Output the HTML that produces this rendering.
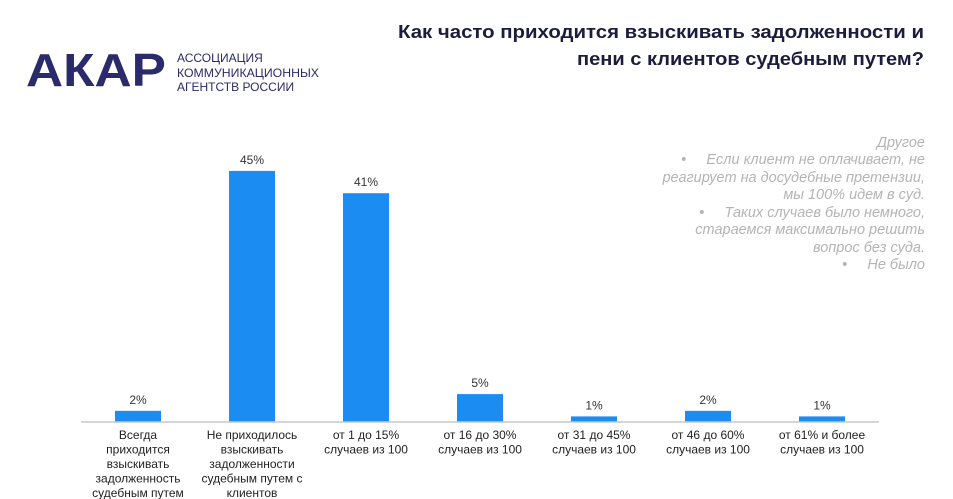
<!DOCTYPE html>
<html><head><meta charset="utf-8"><style>
body{margin:0;width:953px;height:499px;background:#fff;overflow:hidden;font-family:"Liberation Sans","Noto Sans CJK SC",sans-serif;}
svg{display:block}
</style></head><body>
<svg id="chart" width="953" height="499">
<g>
<text x="26" y="86" font-size="46" font-weight="bold" fill="#2b2a6b" textLength="140" lengthAdjust="spacingAndGlyphs">АКАР</text>
<text x="177" y="62" font-size="12" fill="#2b2a6b">АССОЦИАЦИЯ</text>
<text x="177" y="77" font-size="12" fill="#2b2a6b" textLength="142" lengthAdjust="spacingAndGlyphs">КОММУНИКАЦИОННЫХ</text>
<text x="177" y="91" font-size="12" fill="#2b2a6b">АГЕНТСТВ РОССИИ</text>
</g>
<g font-size="18" font-weight="bold" fill="#1c1c3c" text-anchor="end">
<text x="924" y="38" textLength="526" lengthAdjust="spacingAndGlyphs">Как часто приходится взыскивать задолженности и</text>
<text x="924" y="65" textLength="347" lengthAdjust="spacingAndGlyphs">пени с клиентов судебным путем?</text>
</g>
<g font-size="14.5" font-style="italic" fill="#b4b4b4" text-anchor="end">
<text x="925" y="147">Другое</text>
<text x="925" y="164">•&#160;&#160;&#160;&#160;&#160;Если клиент не оплачивает, не</text>
<text x="925" y="182">реагирует на досудебные претензии,</text>
<text x="925" y="199">мы 100% идем в суд.</text>
<text x="925" y="217">•&#160;&#160;&#160;&#160;&#160;Таких случаев было немного,</text>
<text x="925" y="234">стараемся максимально решить</text>
<text x="925" y="252">вопрос без суда.</text>
<text x="925" y="269">•&#160;&#160;&#160;&#160;&#160;Не было</text>
</g>
<g id="bars"></g>
<line x1="81" y1="422" x2="879" y2="422" stroke="#c8c8c8" stroke-width="1.5"/>
<g id="labels"></g>
</svg>
<script>
const categories = [
 ["Всегда","приходится","взыскивать","задолженность","судебным путем"],
 ["Не приходилось","взыскивать","задолженности","судебным путем с","клиентов"],
 ["от 1 до 15%","случаев из 100"],
 ["от 16 до 30%","случаев из 100"],
 ["от 31 до 45%","случаев из 100"],
 ["от 46 до 60%","случаев из 100"],
 ["от 61% и более","случаев из 100"]
];
const values = [2,45,41,5,1,2,1];
const valueLabels = ["2%","45%","41%","5%","1%","2%","1%"];
const NS="http://www.w3.org/2000/svg";
const x0=81, band=114, baseY=422, pxPer=5.58, bw=46;
function xCenter(i){return x0+band*i+band/2;}
function yScale(v){return baseY-v*pxPer;}
const gb=document.getElementById('bars'), gl=document.getElementById('labels');
values.forEach((v,i)=>{
 const r=document.createElementNS(NS,'rect');
 r.setAttribute('x',xCenter(i)-bw/2);r.setAttribute('y',yScale(v));
 r.setAttribute('width',bw);r.setAttribute('height',baseY-yScale(v));
 r.setAttribute('fill','#1a8cf2');
 
 
 gb.appendChild(r);
 const t=document.createElementNS(NS,'text');
 t.setAttribute('x',xCenter(i));t.setAttribute('y',yScale(v)-7);
 t.setAttribute('text-anchor','middle');t.setAttribute('font-size','12');t.setAttribute('fill','#333');
 t.textContent=valueLabels[i];
 
 
 gb.appendChild(t);
 categories[i].forEach((line,j)=>{
  const c=document.createElementNS(NS,'text');
  c.setAttribute('x',xCenter(i));c.setAttribute('y',439+j*14.5);
  c.setAttribute('text-anchor','middle');c.setAttribute('font-size','12');c.setAttribute('fill','#222');
  c.textContent=line;
  
  
  gl.appendChild(c);
 });
});
</script>
</body></html>
